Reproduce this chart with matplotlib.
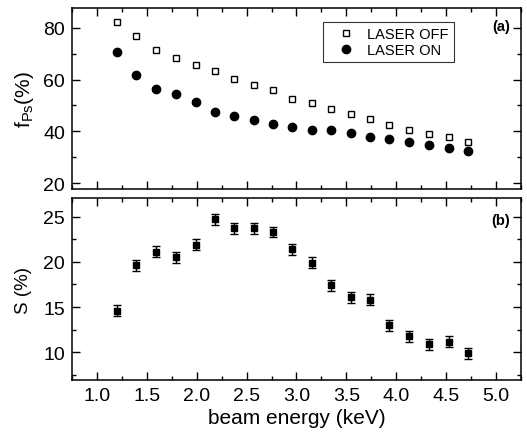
import numpy as np
import matplotlib
matplotlib.use('Agg')
import matplotlib.pyplot as plt
from matplotlib.ticker import MultipleLocator

plt.rcParams['font.family'] = ['Liberation Sans', 'DejaVu Sans']
plt.rcParams['mathtext.fontset'] = 'custom'
plt.rcParams['mathtext.rm'] = 'Liberation Sans'

# beam energy (keV)
energy = [1.20, 1.39, 1.59, 1.79, 1.99, 2.18, 2.37, 2.57, 2.76, 2.96,
          3.16, 3.35, 3.55, 3.74, 3.93, 4.13, 4.33, 4.53, 4.72]

# positronium fraction (%)
f_off = [82.4, 76.8, 71.5, 68.4, 65.6, 63.3, 60.2, 58.0, 55.9, 52.7,
         50.8, 48.8, 46.9, 44.7, 42.4, 40.5, 39.1, 38.0, 36.0]
f_on = [70.5, 61.6, 56.3, 54.4, 51.3, 47.6, 45.9, 44.2, 42.9, 41.5,
        40.6, 40.5, 39.4, 37.9, 36.9, 36.0, 34.9, 33.7, 32.5]

# S (%) and its error
s_val = [14.6, 19.6, 21.1, 20.5, 21.9, 24.7, 23.7, 23.7, 23.3, 21.4,
         19.9, 17.4, 16.1, 15.8, 13.0, 11.8, 10.9, 11.2, 9.9]
s_err = [0.6] * len(s_val)

fig = plt.figure(figsize=(5.27, 4.35), dpi=100)
ax1 = fig.add_axes([0.1366, 0.5632, 0.852, 0.4161])
ax2 = fig.add_axes([0.1366, 0.1241, 0.852, 0.4184])

ax1.plot(energy, f_off, 's', mfc='white', mec='black', mew=1.0, ms=5,
         label='LASER OFF')
ax1.plot(energy, f_on, 'o', color='black', ms=6, label='LASER ON')
ax1.set_xlim(0.75, 5.25)
ax1.set_ylim(17.7, 87.7)
ax1.yaxis.set_major_locator(MultipleLocator(20))
ax1.yaxis.set_minor_locator(MultipleLocator(10))
ax1.set_ylabel(r'f$_{\rm Ps}$(%)', fontsize=15, labelpad=5)
ax1.tick_params(labelbottom=False)
leg = ax1.legend(loc='upper right', bbox_to_anchor=(0.851, 0.923), fontsize=10.5,
                 frameon=True, fancybox=False, borderpad=0.35, handletextpad=0.2,
                 labelspacing=0.15, handlelength=2.5, borderaxespad=0)
leg.get_frame().set_edgecolor('black')
leg.get_frame().set_linewidth(0.8)
ax1.text(0.975, 0.9, '(a)', transform=ax1.transAxes, ha='right', va='center',
         fontsize=10.5, fontweight='bold')

ax2.errorbar(energy, s_val, yerr=s_err, fmt='s', color='black', ms=5,
             capsize=3, elinewidth=1.0, capthick=1.0)
ax2.set_xlim(0.75, 5.25)
ax2.set_ylim(6.95, 27.05)
ax2.yaxis.set_major_locator(MultipleLocator(5))
ax2.yaxis.set_minor_locator(MultipleLocator(2.5))
ax2.set_ylabel('S (%)', fontsize=13.5, labelpad=8)
ax2.set_xlabel('beam energy (keV)', fontsize=15, labelpad=3)
ax2.text(0.975, 0.88, '(b)', transform=ax2.transAxes, ha='right', va='center',
         fontsize=10.5, fontweight='bold')

for ax in (ax1, ax2):
    ax.xaxis.set_major_locator(MultipleLocator(0.5))
    ax.xaxis.set_minor_locator(MultipleLocator(0.25))
    ax.tick_params(which='both', direction='in', top=True, right=True,
                   labelsize=14, width=1.0, pad=5)
    ax.tick_params(which='major', length=5.5)
    ax.tick_params(which='minor', length=3)
    ax.xaxis.set_major_formatter(plt.FormatStrFormatter('%.1f'))
    for sp in ax.spines.values():
        sp.set_linewidth(1.1)
ax1.xaxis.set_major_formatter(plt.NullFormatter())

fig.savefig('out.png', dpi=100)
